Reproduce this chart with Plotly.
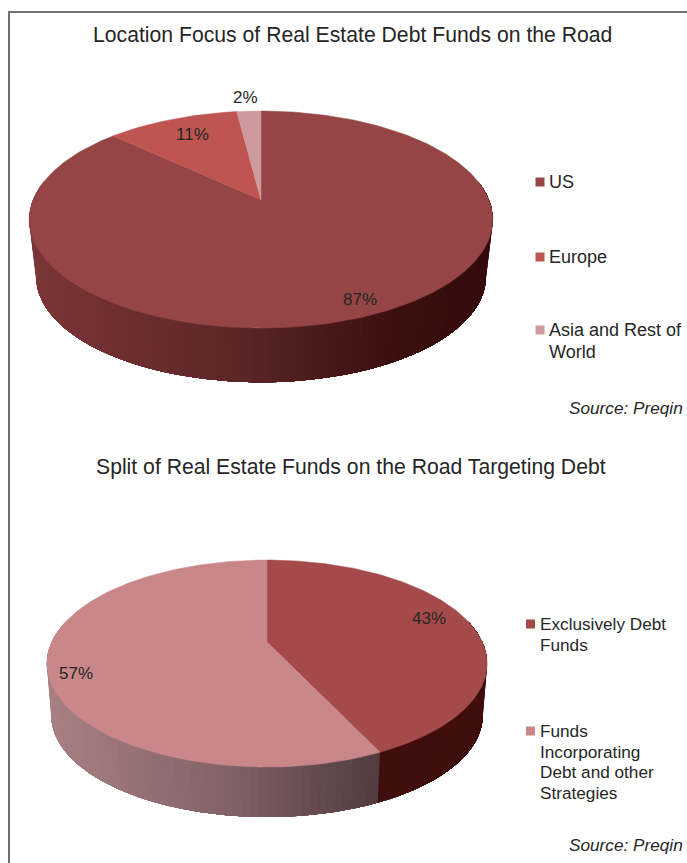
import math
import plotly.graph_objects as go

# ---------- data ----------
location_labels = ["US", "Europe", "Asia and Rest of World"]
location_values = [87, 11, 2]
split_labels = ["Exclusively Debt Funds", "Funds Incorporating Debt and other Strategies"]
split_values = [43, 57]
title_1 = "Location Focus of Real Estate Debt Funds on the Road"
title_2 = "Split of Real Estate Funds on the Road Targeting Debt"
source_text = "Source: Preqin"

FONT = "Liberation Sans"
TEXT = "#262626"

fig = go.Figure()


def hex2rgb(h):
    return [int(h[i:i + 2], 16) for i in (1, 3, 5)]


def ramp(stops, t):
    t = max(0.0, min(1.0, t))
    for (t0, c0), (t1, c1) in zip(stops, stops[1:]):
        if t <= t1:
            f = (t - t0) / (t1 - t0) if t1 > t0 else 0
            a, b = hex2rgb(c0), hex2rgb(c1)
            return "rgb(%d,%d,%d)" % tuple(round(a[i] + (b[i] - a[i]) * f) for i in range(3))
    return stops[-1][1]


def draw_pie(values, cx, cy, a, b, k, dy, shrink, face_colors, side_ramps):
    total = sum(values)
    fr = [0.0]
    for v in values:
        fr.append(fr[-1] + v / total)

    def rim(theta, scale=1.0, shift=0.0):
        u, v = math.sin(theta), -math.cos(theta)
        w = 1 - k * v
        return cx + a * scale * u / w, cy + shift + b * scale * v / w

    # side wall: painted in layers from the right end, so no seams show
    left_x = cx - a * 1.02
    width = 2 * a * 1.02
    n = 110
    t_start = math.pi / 2 - math.asin(k)
    t_end = 2 * math.pi - t_start
    breaks = [t_start + (t_end - t_start) * i / n for i in range(n + 1)]
    for f in fr[1:-1]:
        breaks.append(2 * math.pi * f)
    breaks = sorted(b_ for b_ in breaks if t_start <= b_ <= t_end)
    for j in range(len(breaks) - 2, -1, -1):
        t0, t1 = breaks[j], breaks[j + 1]
        mid = (t0 + t1) / 2
        idx = next(i for i in range(len(values)) if mid <= 2 * math.pi * fr[i + 1] or i == len(values) - 1)
        arc = breaks[:j + 2]
        pts = [rim(t) for t in arc] + [rim(t, shrink, dy) for t in reversed(arc)]
        pts.append(pts[0])
        xf = (rim(mid)[0] - left_x) / width
        col = ramp(side_ramps[idx], xf)
        fig.add_trace(go.Scatter(
            x=[p[0] for p in pts], y=[p[1] for p in pts], mode="lines", fill="toself",
            fillcolor=col, line=dict(width=0), hoverinfo="skip", showlegend=False))

    # top face: one closed sector per value
    for i in range(len(values)):
        t0, t1 = 2 * math.pi * fr[i], 2 * math.pi * fr[i + 1]
        m = max(4, int((t1 - t0) / 0.02))
        pts = [(cx, cy)] + [rim(t0 + (t1 - t0) * j / m) for j in range(m + 1)] + [(cx, cy)]
        fig.add_trace(go.Scatter(
            x=[p[0] for p in pts], y=[p[1] for p in pts], mode="lines", fill="toself",
            fillcolor=face_colors[i], line=dict(color=face_colors[i], width=0.5),
            hoverinfo="skip", showlegend=False))


draw_pie(location_values, 261, 200, 228, 105, 0.18, 58, 0.97,
         ["#954545", "#bf5551", "#cf9a9d"],
         [[(0, "#7c3638"), (0.45, "#5c2627"), (0.8, "#3a0f0e"), (1, "#350b0b")]] * 3)
draw_pie(split_values, 267, 642, 215.3, 99, 0.208, 52.5, 0.98,
         ["#a54a4b", "#c9878a"],
         [[(0, "#431010"), (1, "#3e0d0c")],
          [(0, "#a98083"), (0.4, "#836367"), (0.75, "#523d40"), (1, "#4c383b")]])


def note(x, y, text, size=14, anchor="left", italic=False):
    fig.add_annotation(x=x, y=y, xref="x", yref="y", text=text, showarrow=False,
                       xanchor=anchor, yanchor="middle", align="left",
                       xshift=0, yshift=0, borderpad=0, borderwidth=0,
                       font=dict(family=FONT, size=size, color=TEXT,
                                 style="italic" if italic else "normal"))


# titles and sources
note(352, 34, title_1, size=21.2, anchor="center")
note(350.5, 467, title_2, size=21.2, anchor="center")
note(683, 408, source_text, size=17.2, anchor="right", italic=True)
note(683, 845, source_text, size=17.2, anchor="right", italic=True)

# slice labels
for (x, y), v in zip([(360, 299), (192, 134), (245, 97.5)], location_values):
    note(x, y, f"{v}%", size=17, anchor="center")
for (x, y), v in zip([(429, 618), (75.5, 673.5)], split_values):
    note(x, y, f"{v}%", size=17, anchor="center")

# legends
legend_1 = [(540, 182, "#954545", [location_labels[0]], 18, 22),
            (540, 257, "#bf5551", [location_labels[1]], 18, 22),
            (540, 330, "#cf9a9d", ["Asia and Rest of", "World"], 18, 22)]
legend_2 = [(530.5, 624, "#a54a4b", ["Exclusively Debt", "Funds"], 17.2, 20.5),
            (530.5, 731, "#c9878a", ["Funds", "Incorporating", "Debt and other", "Strategies"], 17.2, 20.5)]
for x, y, c, lines, size, step in legend_1 + legend_2:
    fig.add_trace(go.Scatter(x=[x], y=[y], mode="markers", showlegend=False, hoverinfo="skip",
                             marker=dict(symbol="square", size=9, color=c)))
    for i, t in enumerate(lines):
        note(x + 9, y + i * step, t, size=size)

# frame
fig.add_shape(type="line", x0=8, x1=687, y0=12, y1=12, xref="x", yref="y",
              line=dict(color="#707070", width=2))
fig.add_shape(type="line", x0=9, x1=9, y0=11, y1=863, xref="x", yref="y",
              line=dict(color="#707070", width=2))

fig.update_layout(
    width=687, height=863, autosize=False,
    margin=dict(l=0, r=0, t=0, b=0),
    paper_bgcolor="white", plot_bgcolor="white",
    showlegend=False,
    xaxis=dict(range=[0, 687], visible=False, fixedrange=True, domain=[0, 1]),
    yaxis=dict(range=[863, 0], visible=False, fixedrange=True, domain=[0, 1]),
)
fig.write_html("out.html", config={"displayModeBar": False},
               include_plotlyjs=True, full_html=True,
               post_script="document.body.style.margin='0';document.body.style.overflow='hidden';")
